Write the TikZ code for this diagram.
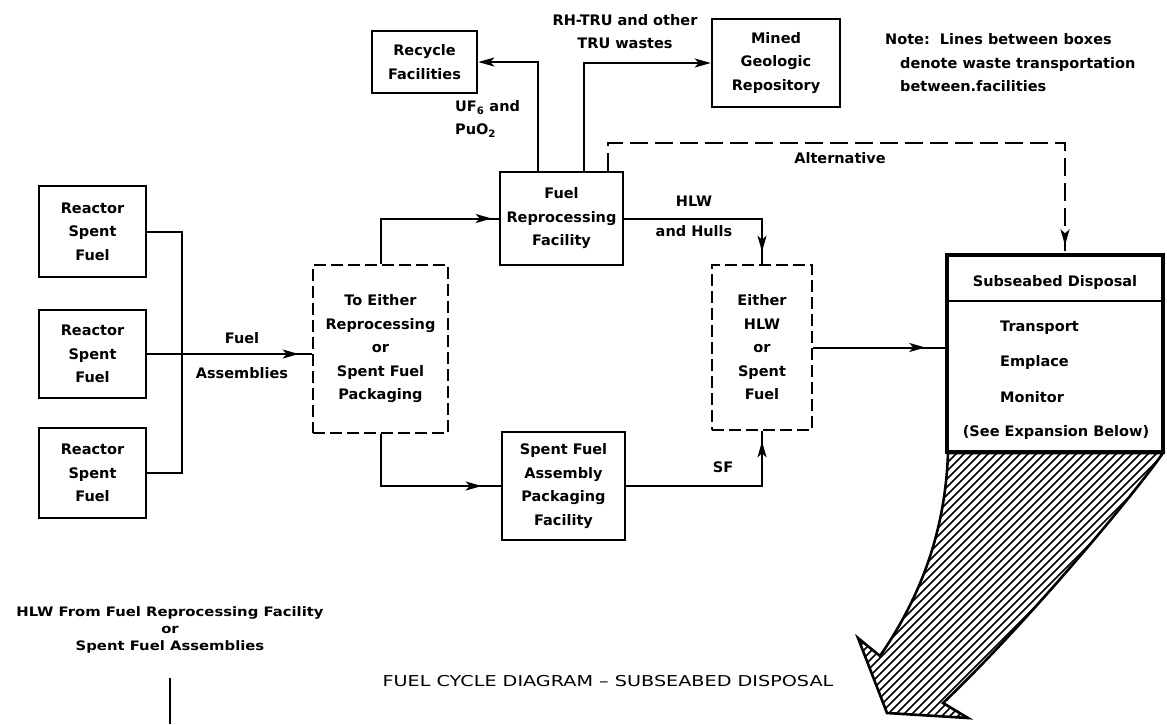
\documentclass[tikz,border=0pt]{standalone}
\usepackage{fontspec}
\setmainfont{DejaVu Sans}
\newfontfamily\widefont{DejaVu Sans}[FakeStretch=1.28]
\newfontfamily\srcfont{DejaVu Sans}[FakeStretch=1.14]
\usetikzlibrary{arrows.meta,decorations.markings,calc}

\tikzset{
  lbl/.style={font=\bfseries\fontsize{14.5}{23.5}\selectfont, align=center, inner sep=0pt},
  box/.style 2 args={draw, line width=2.6pt, minimum width=#1, minimum height=#2, lbl},
  dbox/.style 2 args={box={#1}{#2}, dash pattern=on 12pt off 5pt},
  conn/.style={line width=2pt, line join=miter},
  alt/.style={dash pattern=on 18pt off 7pt},
  tipat/.style={postaction={decorate}, decoration={markings,
      mark=at position -#1 with {\arrow[solid]{Stealth[length=16pt,width=9pt,inset=4pt]}}}},
  tipend/.style={-{Stealth[length=16pt,width=9pt,inset=4pt]}},
  wide/.style={font=\srcfont\bfseries\fontsize{13}{17}\selectfont, align=center, inner sep=0pt},
  hatch/.style={line width=1.5pt},
}

\begin{document}
\begin{tikzpicture}[x=1pt, y=-1pt]
\fill[white] (0,0) rectangle (1167,724);
\useasboundingbox (0,0) rectangle (1167,724);

% reactors and the collecting bus
\node[box={107pt}{91pt}] (R1) at (92.5,231.5) {Reactor\\Spent\\Fuel};
\node[box={107pt}{88pt}] (R2) at (92.5,354) {Reactor\\Spent\\Fuel};
\node[box={107pt}{90pt}] (R3) at (92.5,473) {Reactor\\Spent\\Fuel};
\coordinate (bus) at (182,0);
\draw[conn] (R1.east) -- (R1.east -| bus) -- (R3.east -| bus) -- (R3.east);

% facilities
\node[dbox={135pt}{168pt}] (TE) at (380.5,349) {To Either\\Reprocessing\\or\\Spent Fuel\\Packaging};
\node[box={123pt}{93pt}] (FR) at (561.5,218.5) {Fuel\\Reprocessing\\Facility};
\node[box={105pt}{62pt}] (RF) at (424.5,62) {Recycle\\Facilities};
\node[box={128pt}{88pt}] (MG) at (776,63) {Mined\\Geologic\\Repository};
\node[box={123pt}{108pt}] (SP) at (563.5,486) {Spent Fuel\\Assembly\\Packaging\\Facility};
\node[dbox={100pt}{165pt}] (EI) at (762,347.5) {Either\\HLW\\or\\Spent\\Fuel};
\node[draw, line width=3.4pt, minimum width=216pt, minimum height=197pt] (SD) at (1055,353.5) {};

% subseabed disposal contents
\coordinate (hdr) at (0,301);
\draw[line width=2.2pt] (SD.west |- hdr) -- (SD.east |- hdr);
\node[lbl] (sdh) at (1055,282) {Subseabed Disposal};
\node[lbl, anchor=west, align=left, font=\bfseries\fontsize{14.5}{35.5}\selectfont] (sdl) at (1000,361.5) {Transport\\Emplace\\Monitor};
\node[lbl] (sdx) at (1056,432) {(See Expansion Below)};

% connectors
\draw[conn, tipat=13pt] (R2.east) -- (R2.east -| TE.west);
\draw[conn, tipat=7pt] (TE.north) |- (FR.west);
\draw[conn, tipat=19pt] (TE.south) |- (SP.west);
\coordinate (xrec) at (538,0);
\coordinate (xmin) at (584,0);
\coordinate (altc) at (608,143);
\coordinate (xsd) at (1065,0);
\draw[conn, tipend] (FR.north -| xrec) |- (RF.east);
\draw[conn, tipend] (FR.north -| xmin) |- (MG.west);
\draw[conn, alt, tipat=8pt] (FR.north -| altc) -- (altc) -| (SD.north -| xsd);
\draw[conn, tipat=12pt] (FR.east) -| (EI.north);
\draw[conn, tipat=10pt] (SP.east) -| (EI.south);
\draw[conn, tipat=20pt] (EI.east) -- (EI.east -| SD.west);

% connector labels
\node[lbl] (l1) at (625,31.5) {RH-TRU and other\\TRU wastes};
\node[lbl, anchor=west, align=left] (l2) at (455,119) {UF\textsubscript{6} and\\PuO\textsubscript{2}};
\node[lbl] (l3) at (242,355.5) {Fuel\\[11.5pt]Assemblies};
\node[lbl] (l4) at (694,216) {HLW\\[6.5pt]and Hulls};
\node[lbl] (l5) at (723,467) {SF};
\node[lbl] (l6) at (840,158) {Alternative};
\node[lbl, anchor=west, align=left] (note) at (885,63)
  {Note:\ \ Lines between boxes\\\hspace*{15pt}denote waste transportation\\\hspace*{15pt}between.facilities};

% hatched expansion arrow below the disposal box
\def\arrowoutline{(948,453) -- (1163,453) .. controls (1130,500) and (1020,630) .. (943,703)
  -- (968,718) -- (887,713) -- (858,638) -- (880,656) .. controls (915,605) and (945,540) .. cycle}
\begin{scope}
  \clip \arrowoutline;
  \foreach \k in {480,488,...,1180} \draw[hatch] (\k,730) -- ++(420,-420);
\end{scope}
\draw[line width=2.6pt, line join=miter] \arrowoutline;

% lower left source and caption
\node[wide] (src) at (170,630) {HLW From Fuel Reprocessing Facility\\or\\Spent Fuel Assemblies};
\coordinate (vtop) at (170,678);
\coordinate (vbot) at (170,724);
\draw[line width=2.6pt] (vtop) -- (vbot);
\node[font=\widefont\fontsize{15}{18}\selectfont, inner sep=0pt] (title) at (608,681)
  {FUEL CYCLE DIAGRAM – SUBSEABED DISPOSAL};
\end{tikzpicture}
\end{document}
